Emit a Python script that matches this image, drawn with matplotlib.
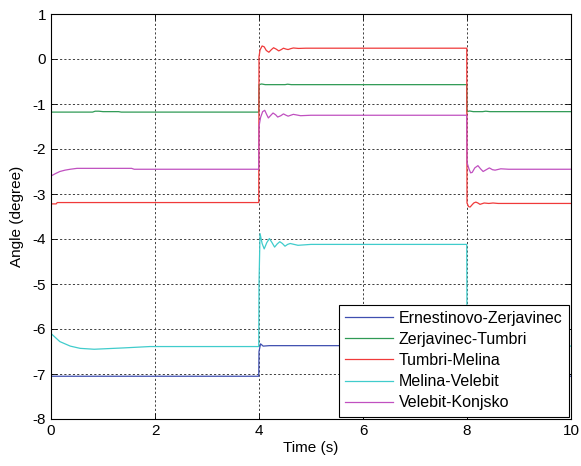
import matplotlib
matplotlib.use("Agg")
import matplotlib.pyplot as plt

plt.rcParams['font.family'] = ['Liberation Sans', 'DejaVu Sans']
plt.rcParams['axes.unicode_minus'] = False

# ---- data ----
labels = ["Ernestinovo-Zerjavinec", "Zerjavinec-Tumbri", "Tumbri-Melina",
          "Melina-Velebit", "Velebit-Konjsko"]

blue_t = [0, 3.995, 4.0, 4.03, 4.08, 4.2, 7.995, 8.0, 10]
blue_y = [-7.05, -7.05, -6.5, -6.33, -6.38, -6.37, -6.37, -7.05, -7.05]

green_t = [0, 0.8, 0.85, 0.92, 1.0, 1.3, 1.35, 3.995,
           4.0, 4.05, 4.12, 4.5, 4.55, 4.62, 5.0, 7.995,
           8.0, 8.05, 8.12, 8.3, 8.36, 8.44, 8.6, 10]
green_y = [-1.18, -1.18, -1.16, -1.16, -1.17, -1.17, -1.18, -1.18,
           -0.57, -0.555, -0.57, -0.57, -0.56, -0.57, -0.57, -0.57,
           -1.17, -1.155, -1.17, -1.17, -1.16, -1.17, -1.17, -1.17]

red_t = [0, 0.1, 0.12, 3.995,
         4.0, 4.02, 4.06, 4.1, 4.14, 4.19, 4.24, 4.28, 4.33, 4.38, 4.43,
         4.47, 4.52, 4.56, 4.61, 4.66, 4.76, 4.9,
         7.995,
         8.0, 8.03, 8.06, 8.09, 8.13, 8.17, 8.21, 8.25, 8.29, 8.33, 8.42, 8.5, 8.6, 10]
red_y = [-3.22, -3.22, -3.19, -3.19,
         0.05, 0.2, 0.29, 0.27, 0.19, 0.15, 0.21, 0.25, 0.22, 0.18, 0.21,
         0.24, 0.22, 0.21, 0.23, 0.245, 0.235, 0.24,
         0.24,
         -3.2, -3.28, -3.29, -3.25, -3.2, -3.18, -3.2, -3.23, -3.215, -3.2, -3.21, -3.2, -3.21, -3.21]

cyan_t = [0, 0.17, 0.37, 0.56, 0.83, 1.4, 1.9, 3.995,
          4.0, 4.02, 4.06, 4.1, 4.15, 4.2, 4.25, 4.3, 4.35, 4.4, 4.45, 4.5,
          4.55, 4.6, 4.75, 5.0,
          7.995, 8.0, 8.05, 10]
cyan_y = [-6.1, -6.28, -6.38, -6.43, -6.45, -6.42, -6.39, -6.39,
          -5.0, -3.88, -4.1, -4.22, -4.08, -3.99, -4.08, -4.18, -4.11, -4.06, -4.1,
          -4.16, -4.12, -4.1, -4.14, -4.12,
          -4.12, -6.0, -6.38, -6.38]

mag_t = [0, 0.08, 0.17, 0.27, 0.37, 0.5, 1.55, 1.6, 3.995,
         4.0, 4.03, 4.07, 4.11, 4.15, 4.18, 4.22, 4.27, 4.32, 4.36, 4.42, 4.47,
         4.52, 4.56, 4.66, 4.8, 5.0,
         7.995,
         8.0, 8.04, 8.07, 8.1, 8.15, 8.21, 8.26, 8.31, 8.37, 8.43, 8.49, 8.54,
         8.65, 8.8, 10]
mag_y = [-2.6, -2.55, -2.5, -2.47, -2.45, -2.43, -2.43, -2.45, -2.45,
         -1.5, -1.3, -1.17, -1.14, -1.24, -1.31, -1.26, -1.2, -1.24, -1.29, -1.26, -1.22,
         -1.25, -1.27, -1.23, -1.26, -1.25,
         -1.25,
         -2.3, -2.45, -2.53, -2.52, -2.42, -2.37, -2.44, -2.5, -2.46, -2.42, -2.46, -2.47,
         -2.44, -2.45, -2.45]

x_ticks = [0, 2, 4, 6, 8, 10]
y_ticks = [1, 0, -1, -2, -3, -4, -5, -6, -7, -8]

colors = ['#3f4fb0', '#2f9a55', '#f03a3a', '#40cccc', '#c050c0']

fig = plt.figure(figsize=(5.81, 4.66), dpi=100)
ax = fig.add_axes([51/581, 47/466, 520/581, 405/466])

series = [(blue_t, blue_y), (green_t, green_y), (red_t, red_y),
          (cyan_t, cyan_y), (mag_t, mag_y)]
for (t, y), c, lab in zip(series, colors, labels):
    ax.plot(t, y, color=c, lw=0.9, label=lab)

ax.set_xlim(0, 10)
ax.set_ylim(-8, 1)
ax.set_xticks(x_ticks)
ax.set_yticks(y_ticks)
ax.set_xticklabels([str(v) for v in x_ticks])
ax.set_yticklabels([str(v) for v in y_ticks])
ax.tick_params(direction='in', top=True, right=True, labelsize=11, length=4, width=0.6)
ax.grid(True, color='#404040', linestyle=(0, (2.2, 2.2)), linewidth=0.7)
for s in ax.spines.values():
    s.set_linewidth(0.8)
ax.set_xlabel("Time (s)", fontsize=11, labelpad=2)
ax.set_ylabel("Angle (degree)", fontsize=11, labelpad=6)

leg = ax.legend(loc='lower right', bbox_to_anchor=(1.0, 0.0), fontsize=11.5,
                handlelength=3.0, handletextpad=0.35, labelspacing=0.38,
                borderpad=0.4, borderaxespad=0.15, fancybox=False,
                framealpha=1, edgecolor='black')
leg.get_frame().set_linewidth(0.8)

fig.savefig("out.png", dpi=100)
